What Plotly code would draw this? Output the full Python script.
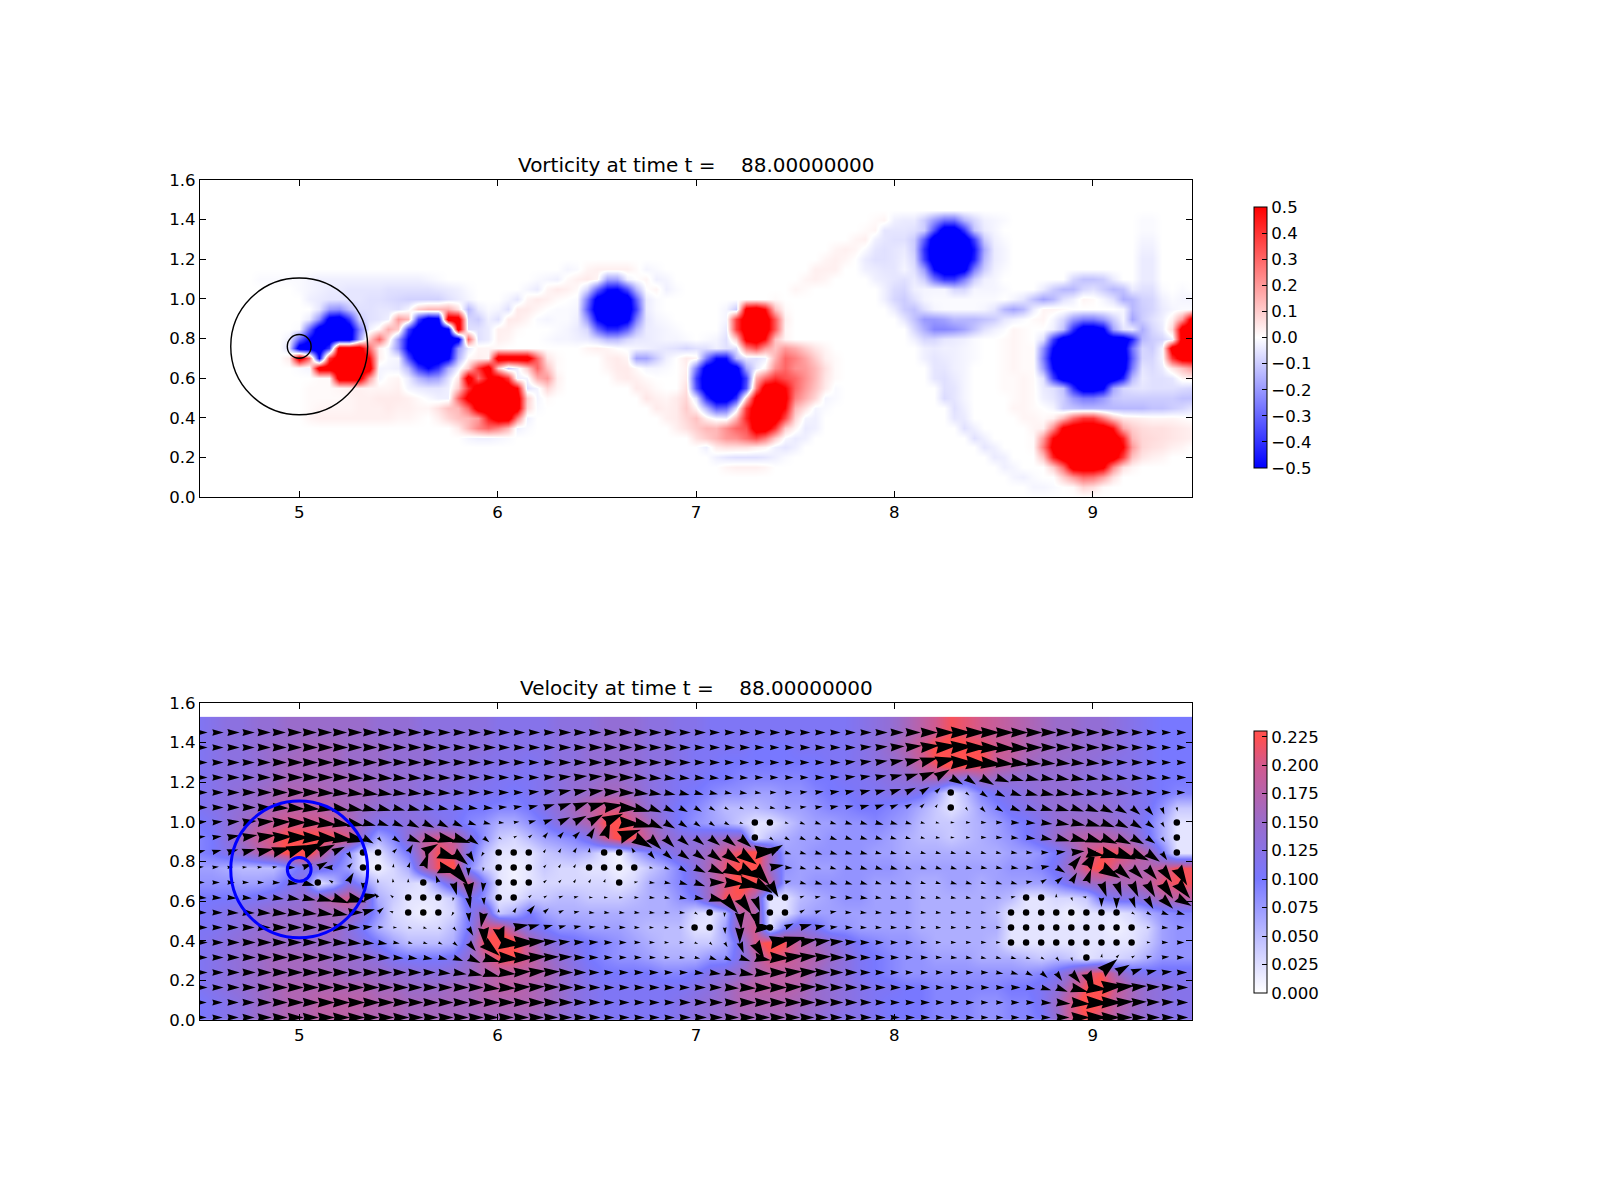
import numpy as np
import plotly.graph_objects as go

TITLE_VORT = "Vorticity at time t =\u00a0\u00a0\u00a0\u00a088.00000000"
TITLE_VEL = "Velocity at time t =\u00a0\u00a0\u00a0\u00a088.00000000"
x_ticks = [5, 6, 7, 8, 9]
y_ticks = [0.0, 0.2, 0.4, 0.6, 0.8, 1.0, 1.2, 1.4, 1.6]
vort_ticks = [-0.5, -0.4, -0.3, -0.2, -0.1, 0.0, 0.1, 0.2, 0.3, 0.4, 0.5]
speed_ticks = [0.0, 0.025, 0.05, 0.075, 0.1, 0.125, 0.15, 0.175, 0.2, 0.225]
circle_center = (5.0, 0.76)
circle_radii = [0.345, 0.06]

# vorticity (hundredths): (x start, values every 0.05)
vort_y140 = [(7.90,[1,2,-3,-4,-4,-10,-20,-29,-29,-15,-8,-3,-2,-1]),(9.25,[-1,-1])]
vort_y135 = [(7.85,[1,2,-5,-5,-5,-6,-10,-35,-60,-60,-40,-12,-4,-2]),(9.25,[-1,-1])]
vort_y130 = [(7.80,[2,3,-3,-5,-6,-6,-10,-32,-60,-60,-60,-60,-38,-10,-3,-1]),(9.25,[-2,-2])]
vort_y125 = [(7.70,[2,3,2,-1,-5,-6,-5,-4,-10,-41,-60,-60,-60,-60,-47,-17,-4,-2]),(9.25,[-3,-3])]
vort_y120 = [(7.65,[2,3,2,0,-4,-6,-6,-5,-3,-8,-38,-60,-60,-60,-60,-44,-14,-4,-2]),(9.25,[-4,-4])]
vort_y115 = [(6.35,[-2,-1,2,3,3,3,3,1,-2,-1]),(7.60,[3,3,3,0,0,-3,-4,-5,-5,-2,-6,-20,-50,-60,-60,-56,-26,-10,-3,-1]),(9.25,[-4,-4])]
vort_y110 = [(4.80,[-1,-1,-1,-1]),(5.00,[-1,-2,-3,-3,-3,-3,-3,-3,-3,-3,-3,-3,-3,-2,-1]),(6.20,[-1,-2,-3,1,3,4,2,-18,-18,-3,0,2,-3,-2]),(7.55,[2,3,2]),(7.90,[-3,-4,-5,-6,-4,-10,-28,-40,-40,-26,-10,-3,-2]),(8.90,[-8,-12,-12,-10,-4]),(9.25,[-4,-4])]
vort_y105 = [(5.00,[-1,-2,-3,-4,-4,-5,-5,-5,-5,-6,-6,-6,-6,-6,-5,-4,-3,-1]),(6.15,[-2,-4,2,4,3,1,-8,-30,-48,-50,-35,-14,0,2,-3,-1]),(7.50,[2,1]),(7.95,[-3,-7,-8,-3,-2,-2,-2,-8,-8,-2,-2,-2,-1]),(8.75,[-4,-10,-14,-14,-8,-6,-10,-14,-12,-4,-6,-6,-1]),(9.45,[-1])]
vort_y100 = [(5.05,[-3,-4,-5,-5,-5,-5,-6,-6,-7,-8,-9,-9,-9,-9,-6,-4,-2]),(6.05,[-2,-5,2,4,3,1,0,-1,-26,-56,-60,-60,-60,-32,-4,-1]),(7.40,[1]),(7.95,[-3,-8,-10,-6,-2,-1,-1,-1,-1,-1,-1,-1]),(8.60,[-2,-5,-12,-18,-14,-6,-3,2,1,-2,-6,-16,-14,-9,-8,-3,-1,-2,-2])]
vort_y095 = [(5.10,[-5,-20,-22,-12,-6,-6,-5,-5,-6,-2,10,14,14,16,6,-14,-4,-1,-2,-6,4,4,2,0,-1,-1,-2,-32,-60,-60,-60,-60,-38,-4,-1]),(7.15,[-2,-10,55,60,48,12,1]),(8.00,[-4,-10,-12,-6,-2,-1,-1,-1,-1,-2,-5,-14,-18,-14,-4,2,2,1]),(9.15,[-2,-14,-10,-8,-4,-2,-1,-1])]
vort_y090 = [(5.05,[-4,-22,-56,-60,-40,-10,-6,-5,-3,20,14,-38,-60,-56,60,60,-8,-10,-3,-6,4,4,2,-1,-2,-1,-1,-3,-20,-50,-60,-60,-56,-26,-5,-2,-1]),(7.15,[-2,38,60,60,60,33,3]),(8.05,[-5,-12,-20,-20,-18,-14,-14,-14,-12,-10,-5,-3,-1,1,2,-2]),(8.85,[-8,-20,-26,-26,-20,-10]),(9.15,[-2,-18,-10,-6,-3,3,20,60])]
vort_y085 = [(5.00,[-1,-30,-60,-60,-60,-60,-26,-3,2,16,10,-38,-60,-60,-60,-56,60,-6,-6,-4,3,3,1]),(6.30,[-1,-2,-4,-8,-30,-43,-43,-32,-14,-4,-3,-2,-1]),(7.15,[-4,38,60,60,60,33,2]),(8.10,[-8,-16,-24,-24,-22,-18,-12,-6,-3,-1,2,1]),(8.80,[-3,-12,-41,-60,-60,-52,-18,-5,-4,-16,-8,-4,8,60,60])]
vort_y080 = [(4.95,[-3,-30,-50,-60,-60,-60,-60,-20,10,30,6,-20,-50,-60,-60,-60,-60,-60,30,-6,-4,3,2]),(6.25,[-1,-2,-2,-3,-4,-8,-14,-14,-8,-5,-4,-3,-2,-2,-1,0,-1]),(7.10,[-2,-6,10,55,60,48,12,2]),(8.10,[-3,-8,-8,-5,-4,-3,-1]),(8.55,[1,2,1]),(8.75,[-6,-38,-60,-60,-60,-60,-60,-60,-60,-44,-14,-10,-8,-3,60,60,60])]
vort_y075 = [(4.95,[-6,-60,-60,-60,-40,60,60,60,30,3,-2,-20,-52,-60,-60,-60,-60,-20,-4,2,2,1]),(6.45,[2,3,2,0,-1,-2,-3,-4,-5,-6,-8,-6,-6,-3,-6,-6,25,35,20,12,20,16,10,5,2]),(8.15,[-3,-4,-3,-3,-2,-1]),(8.55,[1,2,1,1,-22,-50,-60,-60,-60,-60,-60,-60,-58,-28,-8,-10,-2,60,60,60])]
vort_y070 = [(4.95,[4,60,30,-50,40,60,60,60,50,3,-1,-2,-35,-60,-60,-60,-53,-15,1,3,2,30]),(6.00,[60,60,60,60,30,5,1]),(6.55,[3,4,2,-18,-18,-10,-3,0,4,2,-26,-48,-48,-14,-5,-6,-3,15,30,25,18,10,3,1]),(8.15,[-3,-5,-4,-3,-2,-1]),(8.55,[1,2,1,1,-26,-56,-60,-60,-60,-60,-60,-60,-60,-32,-8,-8,-2,40,60,60])]
vort_y065 = [(5.00,[-1,-2,60,60,60,60,60,60,-2,-2,-3,-14,-38,-50,-40,-16,-3,10,40,60,10,-10,-3,10,30,12,1]),(6.55,[2,4,4,1,-2,-2,-1,0,3,-26,-58,-60,-60,-58,-18,-4,2,22,30,22,20,14,6,1]),(8.20,[-5,-5,-3,-2]),(8.55,[1,2,1,1,-20,-50,-60,-60,-60,-60,-60,-60,-58,-26,-5,-7,-4,5,12,20])]
vort_y060 = [(5.10,[1,1,60,60,60,20,-2,1,2,-4,-14,-20,-18,-6,5,60,30,50,56,40,-3,-2,16,20,3]),(6.60,[3,4,3,1]),(6.95,[4,-38,-60,-60,-60,-60,-38,15,30,41,35,30,22,14,5,1]),(8.20,[-5,-6,-4,-2]),(8.55,[1,1,2,1,-6,-38,-60,-60,-60,-60,-60,-60,-44,-14,-4,-6,-6,-5,2,3])]
vort_y055 = [(5.05,[1,1,1,2,3,3,2,2,2,3,-2,-4,-5,-5,-3,10,40,60,60,60,60,50,-6,-2,8,2]),(6.70,[4,3,1]),(6.95,[6,-34,-60,-60,-60,-60,-34,26,60,60,50,30,20,12,4,-1]),(8.25,[-6,-5,-2]),(8.55,[1,1,2,1,-4,-6,-12,-41,-60,-60,-52,-18,-8,-6,-5,-6,-6,-6,-7,-8])]
vort_y050 = [(5.05,[1,1,1,1,2,3,3,4,4,4,3,1,-1,-3,-3,30,56,60,60,60,60,60,10,-2,1]),(6.75,[5,3,2,4,8,-6,-41,-60,-60,-41,10,56,60,60,54,25,16,8,-2,-1]),(8.25,[-7,-5,-2]),(8.60,[1,2,1,-3,-5,-10,-20,-26,-26,-20,-12,-10,-10,-10,-10,-10,-10,-12,-12])]
vort_y045 = [(5.05,[1,2,2,2,2,3,3,3,4,3,3,2,2,6,12,14,30,60,60,60,60,60,8,-1]),(6.80,[4,3,4,10,2,-14,-32,-30,-6,39,60,60,60,49,14,6,-2,-1]),(8.30,[-6,-3]),(8.60,[2,2,1,0,-2,-10,-12,-14,-14,-14,-14,-14,-14,-14,-12,-12,-10,-8,-5])]
vort_y040 = [(5.05,[2,3,3,3,3,3,3,3,3,2,2,1,0,3,8,12,14,20,45,60,60,25,-3]),(6.85,[3,4,8,12,3,-2,-3,15,43,60,60,60,36,8,-2,-3]),(8.30,[-5,-4]),(8.65,[2,2,1,3,14,30,40,40,26,12,5,4,3,2,2,2,1])]
vort_y035 = [(5.80,[4,14,24,30,24,14,-3,-1]),(6.90,[3,6,10,14,14,22,30,34,60,60,40,10,2,-4,-3]),(8.35,[-6,-3]),(8.70,[2,3,23,53,60,60,60,60,47,17,10,7,6,6,5,4,3])]
vort_y030 = [(5.85,[-2,-3,-3,-2,-1]),(7.00,[6,10,14,20,22,28,35,26,10,-1,-4,-3]),(8.40,[-6,-3]),(8.70,[1,20,50,60,60,60,60,60,60,44,14,8,7,6,5,4,3])]
vort_y025 = [(7.05,[-3,4,6,6,6,4,2,-3,-5,-3]),(8.45,[-5,-3]),(8.70,[1,26,56,60,60,60,60,60,60,50,20,8,6,5,3,2])]
vort_y020 = [(7.10,[-3,-5,-6,-6,-6,-5,-3,-1]),(8.50,[-4,-3]),(8.75,[12,44,60,60,60,60,60,60,38,12,5,3,2])]
vort_y015 = [(7.15,[2,3,3,3,2]),(8.55,[-3,-2]),(8.80,[10,29,59,60,60,53,23,6,2])]
vort_y010 = [(8.60,[-2,-3,-1]),(8.85,[10,20,29,27,18,6])]
vort_y005 = [(8.70,[-2,-2,-1]),(8.90,[1,8,6,1])]

vort_rows = {1.40: vort_y140, 1.35: vort_y135, 1.30: vort_y130, 1.25: vort_y125, 1.20: vort_y120,
             1.15: vort_y115, 1.10: vort_y110, 1.05: vort_y105, 1.00: vort_y100, 0.95: vort_y095,
             0.90: vort_y090, 0.85: vort_y085, 0.80: vort_y080, 0.75: vort_y075, 0.70: vort_y070,
             0.65: vort_y065, 0.60: vort_y060, 0.55: vort_y055, 0.50: vort_y050, 0.45: vort_y045,
             0.40: vort_y040, 0.35: vort_y035, 0.30: vort_y030, 0.25: vort_y025, 0.20: vort_y020,
             0.15: vort_y015, 0.10: vort_y010, 0.05: vort_y005}

# speed (hundredths) at each arrow, bottom row first; 2 or less draws as a dot
speed_rows = [
 [10,11,12,13,15,16,17,17,18,18, 18,17,17,17,16,16,16,16,16,16, 16,16,16,15,14,13,12,11,11,11, 11,11,12,13,14,15,16,16,16,16, 15,14,13,12,12,11,10,10,10,9, 9,9,8,8,9,9,10,14,20,22, 20,17,15,14,13,12],
 [10,11,12,13,15,16,17,17,18,18, 18,18,17,17,16,16,16,16,16,17, 17,17,17,16,15,13,12,11,11,11, 11,11,12,13,14,15,17,17,17,17, 16,15,14,13,12,11,10,10,10,9, 9,9,8,8,9,9,11,15,20,24, 22,18,16,14,13,12],
 [11,12,13,14,15,16,17,17,17,17, 17,17,16,16,15,15,15,16,16,17, 18,18,17,16,15,13,12,11,11,11, 11,11,11,12,13,15,17,18,18,18, 17,15,14,13,12,11,11,10,10,9, 9,9,9,9,10,10,11,13,18,22, 24,19,16,14,13,12],
 [11,12,13,14,15,16,16,16,16,16, 15,15,15,14,14,13,13,14,15,17, 18,18,18,17,15,13,11,10,10,10, 10,9,9,10,12,13,15,17,18,18, 18,16,14,13,11,10,9,8,8,8, 8,8,8,8,8,8,9,11,15,20, 22,16,12,11,11,11],
 [11,12,13,14,15,16,16,16,16,15, 15,14,13,11,10,10,10,11,14,18, 22,22,19,16,14,12,10,9,8,8, 7,6,6,6,8,8,12,17,21,20, 18,17,15,13,11,10,9,8,8,7, 7,7,6,6,6,5,4,5,4,2, 3,3,4,6,8,8],
 [11,12,13,14,15,15,15,15,15,15, 14,12,10,7,5,5,5,6,12,22, 25,24,18,14,12,11,10,9,8,7, 6,5,5,4,4,6,12,20,24,22, 18,16,14,12,10,9,8,8,7,6, 6,6,6,5,2,2,2,2,2,2, 2,2,2,4,7,8],
 [11,11,12,13,14,15,15,15,15,16, 13,10,6,4,3,3,3,5,10,20, 22,16,12,10,8,8,7,7,7,6, 5,5,5,2,2,7,17,20,2,10, 13,11,8,8,7,7,7,7,6,6, 6,6,6,6,2,2,2,2,2,2, 2,1,2,3,7,8],
 [10,11,12,13,14,15,15,15,16,16, 16,13,8,3,2,1,2,3,10,16, 4,6,10,7,6,6,6,6,6,6, 6,6,6,3,2,5,18,18,2,2, 6,7,7,7,7,7,7,7,6,6, 6,6,6,5,2,2,2,2,1,2, 2,2,3,6,8,9],
 [10,10,10,10,11,12,13,14,16,18, 20,16,6,4,2,2,2,4,12,8, 2,2,4,4,5,5,4,4,4,5, 6,6,8,10,16,22,22,16,2,2, 5,6,7,8,8,7,7,7,6,6, 6,6,6,6,5,2,2,3,3,4, 10,12,12,14,17,18],
 [8,8,8,7,7,8,11,13,2,5, 12,8,4,3,3,2,8,14,20,10, 2,1,2,3,3,3,3,3,2,3, 6,7,9,12,16,20,24,22,18,7, 7,8,8,8,8,7,7,7,6,6, 7,7,6,7,7,7,7,9,12,15, 16,16,17,18,21,22],
 [7,7,6,5,5,5,8,11,12,10, 7,2,1,3,6,16,22,24,9,4, 2,1,2,4,3,3,2,2,1,2, 4,6,9,13,17,21,23,24,15,8, 7,7,7,8,8,8,8,7,7,7, 7,7,7,7,8,8,9,11,16,21, 23,19,17,17,19,22],
 [9,10,12,14,17,20,23,25,20,14, 8,2,2,6,10,18,22,20,12,5, 2,2,2,4,5,6,5,2,1,6, 9,11,13,14,16,20,22,25,16,7, 7,8,8,8,8,7,7,6,6,6, 6,6,6,6,7,7,8,10,14,19, 22,22,20,17,10,2],
 [9,10,13,16,19,21,23,23,23,22, 21,13,6,9,14,18,20,19,13,8, 4,3,5,7,8,9,12,19,24,22, 18,15,13,13,14,15,16,2,5,6, 7,7,8,8,8,8,7,6,5,5, 4,5,6,7,8,10,12,15,17,18, 18,17,15,11,6,2],
 [10,11,13,15,17,19,20,20,20,19, 17,14,12,12,13,13,12,11,9,8, 6,6,8,10,13,15,17,22,23,20, 16,13,10,8,7,6,4,2,2,4, 6,7,7,8,8,9,8,7,5,4, 4,5,6,7,9,10,12,14,15,15, 15,14,13,10,6,2],
 [11,12,13,14,15,17,18,18,18,17, 16,15,14,13,13,12,11,11,10,10, 9,9,10,12,14,16,18,20,20,17, 14,12,10,9,7,5,5,5,6,7, 7,8,9,9,10,10,9,8,6,4, 2,4,7,9,11,12,13,14,14,14, 14,13,12,11,8,4],
 [11,12,13,14,15,16,17,17,17,16, 16,16,15,14,14,13,13,12,12,11, 11,10,11,12,13,14,15,16,16,15, 13,12,11,10,9,8,8,7,7,8, 8,9,10,10,11,11,12,12,11,7, 2,5,9,11,12,13,14,14,14,13, 13,13,12,11,10,9],
 [11,12,13,13,14,15,16,16,16,16, 16,15,15,14,14,13,13,13,12,12, 11,11,11,12,13,14,14,15,15,14, 13,12,11,11,10,10,9,9,9,9, 9,10,10,11,11,12,13,14,16,17, 15,13,16,15,14,14,14,14,14,13, 13,12,12,11,10,10],
 [11,12,13,13,14,15,16,16,16,16, 15,15,15,14,14,14,13,13,13,12, 12,12,11,12,13,13,14,14,14,14, 13,13,12,11,11,10,10,10,10,10, 10,10,11,11,12,13,14,16,19,22, 25,25,23,19,18,16,15,15,14,14, 13,12,12,11,10,10],
 [11,12,13,13,14,15,15,16,16,16, 15,15,15,14,14,14,13,13,13,13, 12,12,12,12,13,13,14,14,14,14, 13,13,12,11,11,11,11,10,10,10, 11,11,11,11,12,13,15,17,20,23, 24,23,22,20,19,17,16,15,15,14, 14,13,12,11,10,10],
 [11,12,13,13,14,14,15,15,15,15, 15,15,14,14,14,13,13,13,13,13, 12,12,12,12,13,13,13,14,14,14, 13,13,12,12,11,11,11,11,11,11, 11,11,11,11,12,13,14,16,18,20, 22,21,20,19,18,17,16,15,15,14, 14,13,12,11,10,10],
]

# arrow direction in degrees, bottom row first: (first column, values); unlisted arrows point along +x
dir_j00 = []
dir_j01 = [(56,[-3,-5,-5,-2,0,3,3,2,2])]
dir_j02 = [(19,[-5,-3,2,3,2]),(35,[-3,-3,-2,0,2,2]),(55,[-10,-15,-20,-15,-5,5,5,5,3,2])]
dir_j03 = [(16,[-5,-8,-12,-15,-5,3,5,3]),(33,[-5,-8,-10,-10,-5,0,3,3]),(53,[-10,-15,-25,-40,-55,-50,-65,40,30,20,12,5])]
dir_j04 = [(12,[-3,-5,-8,-10,-12,-20,-25,-15,-5,0,3,3,3]),(30,[-3,-3,-5,-12,-20,-25,-20,-10,-2,5,5,3]),(50,[-5,-8,-10,-12,-15,-20,-30,-50,-70,0,80,45,30,15,5])]
dir_j05 = [(9,[-2,-5,-5,-10,-10,-15,-20,-25,-40,-50,-40,-5,0,5,5,5,3,2,0,0,0,0,-3,-5,-25,-45,-60,-70,-60,10,15,10,8,5,3])]
dir_j06 = [(11,[5,5,-5,-10,-20,-30,-50,-60,-85,-75,10,15,15,15,10,5,0,0,-3,-3,-3,0,0,-80,-85,-90,0,35,25,15,10,5,0,-3,-3,-3,-3,-3,-3,-3,-3,-3,0,0,0,0,0,0,0,0,0,-5,-5,-5])]
dir_j07 = [(0,[-2,-2,-3,-3,-4,-5,-5,-6,-8,-10,0,15,40,160,0,0,0,-120,-85,-100,90,60,50,40,25,10,-5,-5,-5,-5,-5,-5,-5,-30,0,-95,-85,-75,0,0,30,20,10,-3,-5,-5,-5,-5,-5,-5,-5,-5,-5,-5,0,0,0,0,0,0,0,0,-30,-30,-20,-15])]
dir_j08 = [(0,[-3,-3,-5,-5,-6,-8,-10,-12,-15,-20,-15,10,130,140,0,0,0,-100,-80,-85,0,0,40,30,20,10,0,-5,-5,-5,-5,-8,-10,-10,-15,-50,-55,-70,0,0,20,10,0,-5,-8,-8,-8,-8,-8,-8,-8,-8,-8,-8,10,0,0,90,-70,170,-90,-90,-70,-60,-45,-30])]
dir_j09 = [(5,[-3,-8,-15,0,150,60,-90,100,95,90,0,110,-75,-85,-95,0,0,0,40,50,60,60,70,0,10,-5,-10,-15,-20,0,-5,-10,-30,-60,15,-15,-15,-15,-15,-15,-15,-15,-15,-15,-15,-15,-15,-15,-15,-15,10,30,40,60,70,-70,-70,-65,-60,-55,-50])]
dir_j10 = [(0,[5,5,5,5,5,8,0,20,30,180,45,0,0,80,70,70,-15,-50,-90,-100,0,0,0,50,60,60,0,0,0,0,-10,-20,-30,-25,-25,-25,-30,-50,10,-5,-15,-15,-15,-15,-15,-15,-15,-15,-15,-15,-15,-12,-10,-10,-8,-5,10,-30,50,60,-30,-40,-45,-50,-55,-60])]
dir_j11 = [(0,[15,15,15,14,12,15,20,25,25,25,-60,0,0,45,60,30,-20,-40,-60,-120,0,0,0,60,60,60,80,0,0,120,-50,-40,-35,-35,-35,-35,-35,5,30,-15,-15,-15,-15,-14,-14,-14,-14,-14,-14,-14,-14,-14,-12,-10,-8,-5,0,5,5,-10,-15,-20,-25,-35,-55,0])]
dir_j12 = [(0,[8,8,9,9,7,3,0,-3,-6,-8,-12,-30,-50,-35,-22,-15,-12,-18,-35,-40,-30,25,40,50,50,45,60,70,20,-30,-45,-45,-40,-38,-38,-38,-40,0,-40,-30,-25,-22,-20,-18,-16,-16,-16,-15,-12,-8,-5,-3,0,-3,-6,-8,-12,-15,-15,-18,-22,-25,-28,-35,-55,-80])]
dir_j13 = [(0,[5,5,6,6,4,2,0,-4,-7,-10,-12,-14,-18,-22,-25,-26,-26,-24,-20,-14,-5,8,15,20,25,28,30,25,-5,-15,-25,-30,-32,-35,-35,-30,-22,0,0,-20,-20,-18,-16,-16,-15,-15,-15,-15,-12,-10,-5,-3,-2,0,-3,-5,-8,-10,-12,-15,-20,-25,-30,-35,-60,0])]
dir_j14 = [(5,[-3,-5,-6,-8,-10,-12,-13,-14,-14,-14,-13,-12,-10,-8,-5]),(20,[3,8,12,16,20,20,16,8,-5,-15,-22,-25,-28,-30,-30,-28,-22,-15,-10,-5,5,8,10,12,15,18,22,30,45,60,0,-60,-45,-30,-22,-18,-15,-15,-18,-20,-25,-30,-40,-50,-70,-80])]
dir_j15 = [(8,[-3,-5,-7,-8,-8,-7,-6,-5,-4,-3]),(22,[5,8,10,10,8,4,-2,-6,-10,-12,-14,-14,-12,-10,-8,-6]),(40,[5,6,8,10,12,14,18,25,32,45,0,-40,-35,-25,-18,-14,-12,-10,-10,-8,-6,-5,-4])]
dir_j16 = [(10,[-3,-4,-4,-4,-3,-3,-2]),(23,[3,5,6,5,3,0,-3,-5,-6,-6,-5,-5,-4,-3]),(42,[3,5,8,10,13,16,22,30,-30,-35,-30,-20,-15,-12,-10,-10,-10,-8,-8,-6,-5,-4,-3])]
dir_j17 = [(43,[5,6,8,10,12,15,12,0,-5,-6,-6,-6,-6,-5,-5,-5,-5])]
dir_j18 = [(44,[3,4,5,6,6,5,3,0,-3,-3,-3])]
dir_j19 = []
dir_rows = [dir_j00, dir_j01, dir_j02, dir_j03, dir_j04, dir_j05, dir_j06, dir_j07, dir_j08, dir_j09,
            dir_j10, dir_j11, dir_j12, dir_j13, dir_j14, dir_j15, dir_j16, dir_j17, dir_j18, dir_j19]

W, H = 1600, 1200
AX_L, AX_R = 200, 1192
TOP_T, TOP_B = 180, 497
BOT_T, BOT_B = 703, 1020
PX_PER_UNIT = (AX_R - AX_L) / 5.0

# ---- vorticity grid
vx = 4.5 + 0.05 * np.arange(101)
vy = 0.05 * np.arange(33)
vz = np.zeros((33, 101))
for yv, segs in vort_rows.items():
    r = int(round(yv / 0.05))
    for xs, vals in segs:
        c0 = int(round((xs - 4.5) / 0.05))
        for k, v in enumerate(vals):
            if c0 + k < 101:
                vz[r, c0 + k] = v / 100.0

# ---- velocity grid
ax_x = 4.486 + 0.07596 * np.arange(66)
ax_y = 0.013 + 0.0757 * np.arange(20)
spd = np.array(speed_rows, dtype=float) / 100.0
ang = np.zeros((20, 66))
for j, segs in enumerate(dir_rows):
    for i0, vals in segs:
        for k, v in enumerate(vals):
            if i0 + k < 66:
                ang[j, i0 + k] = v

hx = np.append(ax_x, 9.52)
hy = np.append(ax_y, [1.50, 1.52])
hz = np.hstack([spd, spd[:, -1:]])
hz = np.vstack([hz, hz[-1:], hz[-1:]])

px, py, dx, dy = [], [], [], []
for j in range(20):
    for i in range(66):
        s = speed_rows[j][i]
        if s <= 2:
            dx.append(ax_x[i]); dy.append(ax_y[j])
            continue
        L = max(s * 0.95, 4.0) / PX_PER_UNIT
        w = 0.29 * L
        t = np.deg2rad(ang[j, i])
        c, n = np.cos(t), np.sin(t)
        x0, y0 = ax_x[i], ax_y[j]
        px += [x0 - n * w, x0 + c * L, x0 + n * w, x0 + c * 0.1 * L, x0 - n * w, None]
        py += [y0 + c * w, y0 + n * L, y0 - c * w, y0 + n * 0.1 * L, y0 + c * w, None]

fig = go.Figure()
FONT = "DejaVu Sans"
TICK = dict(family=FONT, size=16.6, color="black")

def cbar(top, bottom, vals, fmt):
    return dict(x=1254 / W, xanchor="left", xpad=0, y=1 - top / H, yanchor="top", ypad=0,
                len=(bottom - top) / H, lenmode="fraction", thickness=13, thicknessmode="pixels",
                outlinecolor="black", outlinewidth=1, ticks="inside", ticklen=5, tickcolor="black",
                tickvals=vals, tickformat=fmt, tickfont=TICK)

fig.add_trace(go.Heatmap(x=vx, y=vy, z=vz, zmin=-0.5, zmax=0.5, zsmooth="best",
                         colorscale=[[0, "#0000ff"], [0.5, "#ffffff"], [1, "#ff0000"]],
                         colorbar=cbar(207, 468, vort_ticks, ".1f"), xaxis="x", yaxis="y", hoverinfo="skip"))
fig.add_trace(go.Heatmap(x=hx, y=hy, z=hz, zmin=0, zmax=0.23, zsmooth="best",
                         colorscale=[[0, "#ffffff"], [0.435, "#7878ff"], [0.652, "#9a6ccb"], [0.87, "#d25a8e"], [0.975, "#ff5050"], [1, "#ff5050"]],
                         colorbar=cbar(731, 993, speed_ticks, ".3f"), xaxis="x2", yaxis="y2", hoverinfo="skip"))
fig.add_trace(go.Scatter(x=px, y=py, mode="lines", line=dict(width=0, color="black"), fill="toself",
                         fillcolor="black", xaxis="x2", yaxis="y2", showlegend=False, hoverinfo="skip"))
fig.add_trace(go.Scatter(x=dx, y=dy, mode="markers", marker=dict(size=6.5, color="black", line=dict(width=0)),
                         xaxis="x2", yaxis="y2", showlegend=False, hoverinfo="skip"))

def axis(dom, anchor, rng, ticks, fmt):
    return dict(domain=dom, anchor=anchor, range=rng, tickvals=ticks, tickformat=fmt, ticks="inside", ticklen=6,
                tickcolor="black", tickwidth=1, showline=True, linecolor="black", linewidth=1, mirror="ticks",
                showgrid=False, zeroline=False, tickfont=TICK, layer="above traces")

fig.update_layout(
    width=W, height=H, margin=dict(l=0, r=0, t=0, b=0, autoexpand=False), paper_bgcolor="white", plot_bgcolor="white", showlegend=False,
    xaxis=axis([AX_L / W, AX_R / W], "y", [4.5, 9.5], x_ticks, "d"),
    yaxis=axis([1 - TOP_B / H, 1 - TOP_T / H], "x", [0, 1.6], y_ticks, ".1f"),
    xaxis2=axis([AX_L / W, AX_R / W], "y2", [4.5, 9.5], x_ticks, "d"),
    yaxis2=axis([1 - BOT_B / H, 1 - BOT_T / H], "x2", [0, 1.6], y_ticks, ".1f"),
)
for ref, col, lw in (("", "black", 1.4), ("2", "#0000ff", 3)):
    for r in circle_radii:
        fig.add_shape(type="circle", xref="x" + ref, yref="y" + ref, x0=circle_center[0] - r, x1=circle_center[0] + r,
                      y0=circle_center[1] - r, y1=circle_center[1] + r, line=dict(color=col, width=lw), layer="above")
for text, top in ((TITLE_VORT, TOP_T), (TITLE_VEL, BOT_T)):
    fig.add_annotation(text=text, xref="paper", yref="paper", x=(AX_L + AX_R) / 2 / W, y=1 - (top - 1) / H,
                       xanchor="center", yanchor="bottom", showarrow=False,
                       font=dict(family=FONT, size=20, color="black"))

fig.write_html("out.html", config={"displayModeBar": False}, post_script="document.body.style.margin='0';")
